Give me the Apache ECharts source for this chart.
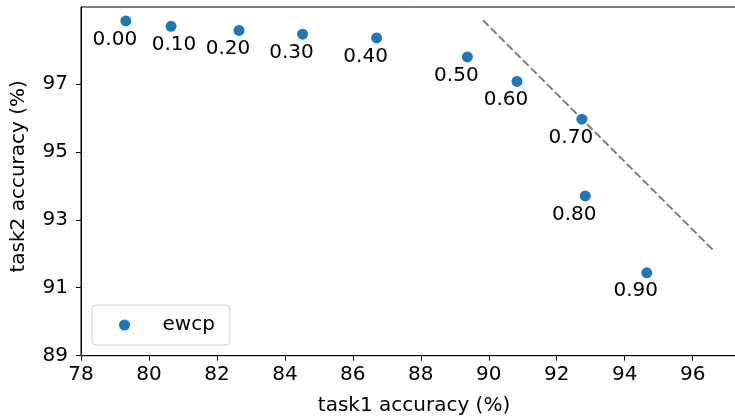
<!DOCTYPE html>
<html>
<head>
<meta charset="utf-8">
<script src="https://cdn.jsdelivr.net/npm/echarts@6/dist/echarts.min.js"></script>
<style>
html,body{margin:0;padding:0;background:#fff;}
#chart{width:735px;height:418px;}
</style>
</head>
<body>
<div id="chart"></div>
<script>
// ---- data ----
const lambdas = ['0.00','0.10','0.20','0.30','0.40','0.50','0.60','0.70','0.80','0.90'];
const task1 = [79.32, 80.65, 82.65, 84.52, 86.70, 89.37, 90.83, 92.74, 92.84, 94.65];
const task2 = [98.85, 98.69, 98.57, 98.46, 98.35, 97.79, 97.07, 95.96, 93.70, 91.44];
const refLineX = [89.83, 96.65];
const refLineY = [98.87, 92.06];
const xTicks = [78, 80, 82, 84, 86, 88, 90, 92, 94, 96];
const yTicks = [89, 91, 93, 95, 97];
const seriesName = 'ewcp';

// ---- styling (not data) ----
const labelShift = [-11, 3, -11, -11, -11, -11, -11, -11, -11, -11];
const FONT = 'DejaVu Sans';

const chart = echarts.init(document.getElementById('chart'), null, {renderer: 'canvas'});

const scatterData = task1.map((x, i) => ({
  value: [x, task2[i]],
  name: lambdas[i],
  label: {offset: [labelShift[i], 0]}
}));

const option = {
  animation: false,
  backgroundColor: '#ffffff',
  textStyle: {fontFamily: FONT},
  grid: {
    left: 81, top: 7, width: 666, height: 348.7,
    outerBoundsMode: 'none', containLabel: false,
    show: true, borderColor: '#000', borderWidth: 1, backgroundColor: 'transparent'
  },
  legend: {
    left: 92, top: 305,
    data: [{name: seriesName, icon: 'circle'}],
    itemWidth: 22, itemHeight: 11,
    padding: [10, 15, 10, 27],
    backgroundColor: 'rgba(255,255,255,0.8)',
    borderColor: '#d3d3d3', borderWidth: 1, borderRadius: 4,
    textStyle: {fontFamily: FONT, fontSize: 20, color: '#000', padding: [0, 0, 0, 22]}
  },
  xAxis: {
    type: 'value', min: 78, max: 97.6,
    name: 'task1 accuracy (%)', nameLocation: 'middle', nameGap: 40,
    nameTextStyle: {fontFamily: FONT, fontSize: 20, color: '#000'},
    axisLine: {show: true, onZero: false, lineStyle: {color: '#000', width: 1}},
    axisTick: {show: true, length: 5, lineStyle: {color: '#000'}, customValues: xTicks},
    axisLabel: {fontFamily: FONT, fontSize: 20, color: '#000', margin: 9, customValues: xTicks},
    splitLine: {show: false}
  },
  yAxis: {
    type: 'value', min: 89, max: 99.26,
    name: 'task2 accuracy (%)', nameLocation: 'middle', nameGap: 52,
    nameTextStyle: {fontFamily: FONT, fontSize: 20, color: '#000', padding: [0, 0, 0, 10]},
    axisLine: {show: true, onZero: false, lineStyle: {color: '#000', width: 1}},
    axisTick: {show: true, length: 5, lineStyle: {color: '#000'}, customValues: yTicks},
    axisLabel: {fontFamily: FONT, fontSize: 20, color: '#000', margin: 13, customValues: yTicks},
    splitLine: {show: false}
  },
  series: [
    {
      name: 'ref', type: 'line',
      data: refLineX.map((x, i) => [x, refLineY[i]]),
      showSymbol: false, symbol: 'none',
      lineStyle: {color: '#808080', width: 2, type: [8, 3.3]},
      silent: true, z: 1
    },
    {
      name: seriesName, type: 'scatter',
      data: scatterData,
      symbol: 'circle', symbolSize: 11,
      itemStyle: {color: '#1f77b4', opacity: 1},
      label: {
        show: true, position: 'bottom', distance: 3,
        formatter: p => p.name,
        fontFamily: FONT, fontSize: 20, color: '#000'
      },
      z: 3
    }
  ]
};
chart.setOption(option);
</script>
</body>
</html>
